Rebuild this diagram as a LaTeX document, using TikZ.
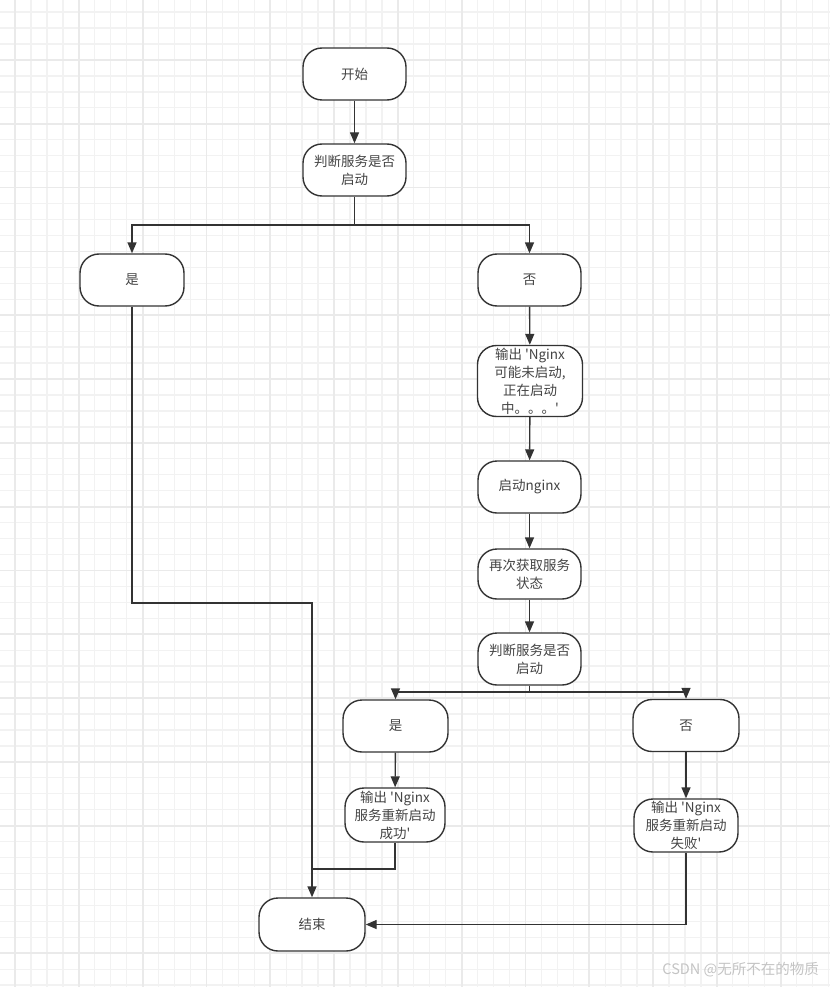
\documentclass[tikz,border=0pt]{standalone}
\usepackage{fontspec}
\newfontfamily\cjk{Noto Sans CJK SC}
\usetikzlibrary{arrows.meta}
\definecolor{bd}{HTML}{333333}
\definecolor{tx}{HTML}{444444}
\definecolor{gmin}{HTML}{F2F2F2}
\definecolor{gmaj}{HTML}{EAEAEA}
\definecolor{wm}{HTML}{C4C4C4}
\tikzset{
  flowbox/.style={draw=bd, line width=1.4pt, rounded corners=19pt, fill=white,
    inner sep=0pt, minimum width=103pt, minimum height=52pt, align=center,
    text=tx, font=\cjk\fontsize{13.5pt}{18pt}\selectfont},
  arr/.style={draw=bd, line width=1.4pt, -{Triangle[length=11pt,width=9pt]}},
  ln/.style={draw=bd, line width=1.4pt},
}
\begin{document}
\begin{tikzpicture}[x=1pt,y=-1pt]
\useasboundingbox (0,0) rectangle (830,987);
\fill[white] (0,0) rectangle (830,987);
% grid
\foreach \k in {-1,...,51} {
  \draw[gmin, line width=1.3pt] ({15+15.95*\k},0) -- ({15+15.95*\k},987);
}
\foreach \k in {-4,...,58} {
  \draw[gmin, line width=1.3pt] (0,{60+15.95*\k}) -- (830,{60+15.95*\k});
}
\foreach \k in {0,...,12} {
  \draw[gmaj, line width=1.8pt] ({15+63.8*\k},0) -- ({15+63.8*\k},987);
}
\foreach \k in {-1,...,14} {
  \draw[gmaj, line width=1.8pt] (0,{60+63.8*\k}) -- (830,{60+63.8*\k});
}
% nodes
\node[flowbox] (start) at (354.5,74) {开始};
\node[flowbox] (j1) at (354.5,170) {判断服务是否\\启动};
\node[flowbox, minimum width=104pt] (yes1) at (132,280) {是};
\node[flowbox] (no1) at (529.5,280) {否};
\node[flowbox, minimum width=105pt, minimum height=71pt] (out1) at (530,381)
  {输出 \textquotesingle Nginx\\可能未启动,\\正在启动\\中。。。\textquotesingle};
\node[flowbox] (startn) at (529.5,487) {启动nginx};
\node[flowbox, minimum height=50pt] (again) at (529.5,574) {再次获取服务\\状态};
\node[flowbox] (j2) at (529.5,659) {判断服务是否\\启动};
\node[flowbox, minimum width=105pt] (yes2) at (395.5,726) {是};
\node[flowbox, minimum width=106pt] (no2) at (686,725.5) {否};
\node[flowbox, minimum width=100pt, minimum height=54pt] (ok) at (395,815)
  {输出 \textquotesingle Nginx\\服务重新启动\\成功\textquotesingle};
\node[flowbox, minimum width=104pt, minimum height=53pt] (fail) at (686,825.5)
  {输出 \textquotesingle Nginx\\服务重新启动\\失败\textquotesingle};
\node[flowbox, minimum width=106pt, minimum height=53pt] (end) at (312,924.5) {结束};
% connectors
\coordinate (s1) at (354.5,225);
\coordinate (s2) at (529.5,692);
\coordinate (m1) at (312,603);
\coordinate (m2) at (312,869);
\draw[arr] (start) -- (j1);
\draw[ln] (j1.south) -- (s1);
\draw[arr] (s1) -| (yes1.north);
\draw[arr] (s1) -| (no1.north);
\draw[arr] (no1) -- (out1);
\draw[arr] (out1) -- (startn);
\draw[arr] (startn) -- (again);
\draw[arr] (again) -- (j2);
\draw[ln] (j2.south) -- (s2);
\draw[arr] (s2) -| (yes2.north);
\draw[arr] (s2) -| (no2.north);
\draw[arr] (yes2) -- (ok);
\draw[arr] (no2) -- (fail);
\draw[arr] (yes1.south) |- (m1) -- (end.north);
\draw[ln] (ok.south) |- (m2);
\draw[arr] (fail.south) |- (end.east);
% watermark
\node[anchor=east, text=wm, font=\cjk\fontsize{14.5pt}{16pt}\selectfont, inner sep=0pt] (wmk) at (819,970) {CSDN @无所不在的物质};
\end{tikzpicture}
\end{document}
